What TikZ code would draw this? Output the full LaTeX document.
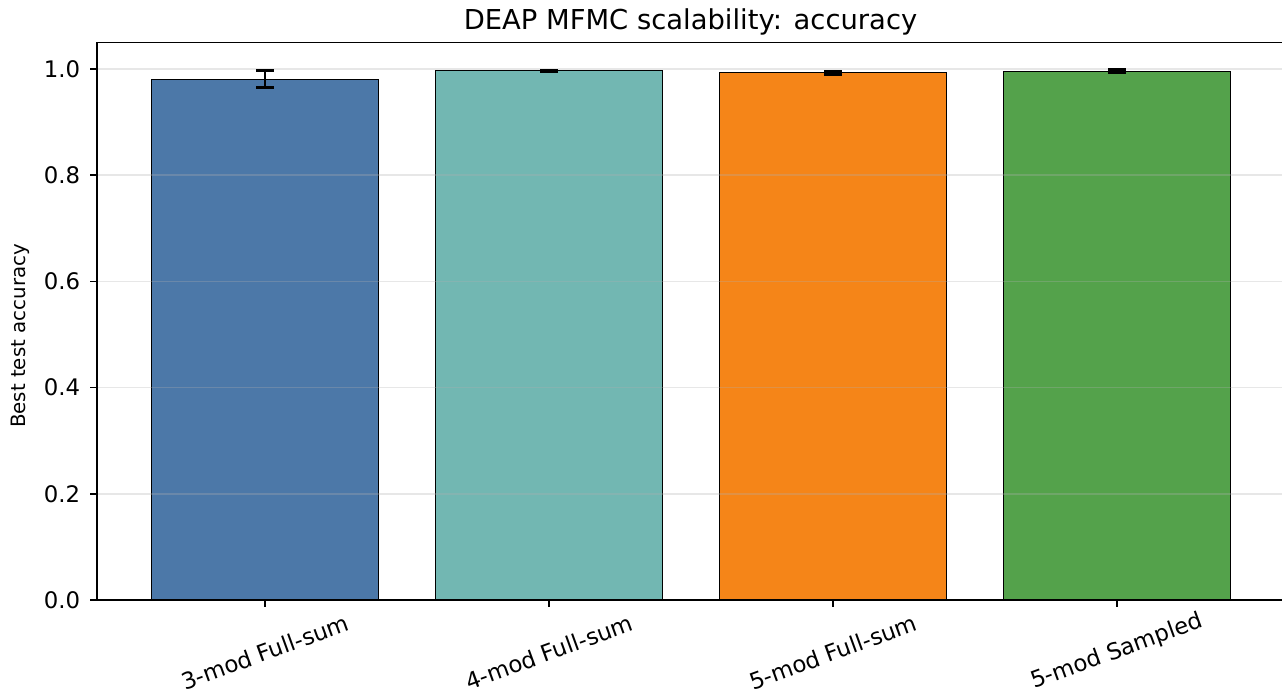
\documentclass[tikz,border=0pt]{standalone}
\usepackage{fontspec}
\setmainfont{DejaVu Sans}
\definecolor{barblue}{HTML}{4C78A8}
\definecolor{barteal}{HTML}{72B7B2}
\definecolor{barorange}{HTML}{F58518}
\definecolor{bargreen}{HTML}{54A24B}
\definecolor{gridgray}{HTML}{B0B0B0}
\begin{document}
\begin{tikzpicture}[x=0.5pt,y=-0.5pt,
  barbox/.style={draw=black, line width=0.5pt},
  gridline/.style={draw=gridgray, draw opacity=0.3, line width=0.8pt},
  spine/.style={draw=black, line width=0.8pt, line cap=rect},
  tickmark/.style={draw=black, line width=0.8pt},
  errbar/.style={draw=black, line width=1.2pt},
  ticklabel/.style={font=\fontsize{11.4}{13}\selectfont, inner sep=0pt},
  axlabel/.style={font=\fontsize{9.9}{12}\selectfont, inner sep=0pt},
  titlelabel/.style={font=\fontsize{13.7}{16}\selectfont, inner sep=0pt}]
\useasboundingbox (0,0) rectangle (1282,694);

% bars: centre / height / colour
\foreach \i/\cx/\v/\c in {
    1/265/0.981/barblue,
    2/549/0.9965/barteal,
    3/833/0.993/barorange,
    4/1117/0.9962/bargreen}{
  \pgfmathsetmacro\top{600-\v*531}
  \fill[\c] (\cx-113.6,600) rectangle (\cx+113.6,\top);
  \draw[barbox] (\cx-113.6,600) rectangle (\cx+113.6,\top);
}

% horizontal grid over the bars
\foreach \v in {0.2,0.4,0.6,0.8,1.0}{
  \pgfmathsetmacro\yy{600-\v*531}
  \draw[gridline] (97,\yy) -- (1282,\yy);
}

% error bars: centre / mean / half-width
\foreach \i/\cx/\v/\e in {1/265/0.981/0.016, 2/549/0.9965/0.0012, 3/833/0.993/0.0035, 4/1117/0.9962/0.0025}{
  \pgfmathsetmacro\lo{600-(\v-\e)*531}
  \pgfmathsetmacro\hi{600-(\v+\e)*531}
  \coordinate (elo\i) at (\cx,\lo);
  \coordinate (ehi\i) at (\cx,\hi);
  \draw[errbar] (elo\i) -- (ehi\i);
  \draw[errbar] ([xshift=-4.5pt]elo\i) -- ([xshift=4.5pt]elo\i);
  \draw[errbar] ([xshift=-4.5pt]ehi\i) -- ([xshift=4.5pt]ehi\i);
}

% spines
\coordinate (ax0) at (97,600);
\coordinate (axtop) at (97,42.7);
\coordinate (axright) at (1282,600);
\coordinate (axtr) at (1282,42.7);
\draw[spine] (axtop) -- (ax0) -- (axright);
\draw[spine] (axtop) -- (axtr);

% y ticks and labels
\foreach \k/\v/\t in {0/0/0.0, 1/0.2/0.2, 2/0.4/0.4, 3/0.6/0.6, 4/0.8/0.8, 5/1.0/1.0}{
  \pgfmathsetmacro\yy{600-\v*531}
  \draw[tickmark] (90,\yy) -- (97,\yy);
  \node[ticklabel, anchor=base east] (yt\k) at (80.5,\yy+8.3) {\t};
}

% x ticks and rotated labels
\foreach \i/\cx/\lab in {1/265/3-mod Full-sum, 2/549/4-mod Full-sum, 3/833/5-mod Full-sum, 4/1117/5-mod Sampled}{
  \draw[tickmark] (\cx,600) -- (\cx,607);
  \node[ticklabel, rotate=20, anchor=center] (xt\i) at (\cx,652) {\lab};
}

% axis label and title
\node[axlabel, rotate=90, anchor=base] (ylab) at (25.5,336) {Best test accuracy};
\node[titlelabel, anchor=base] (title) at (690.5,29.5) {DEAP MFMC scalability: accuracy};
\end{tikzpicture}
\end{document}
